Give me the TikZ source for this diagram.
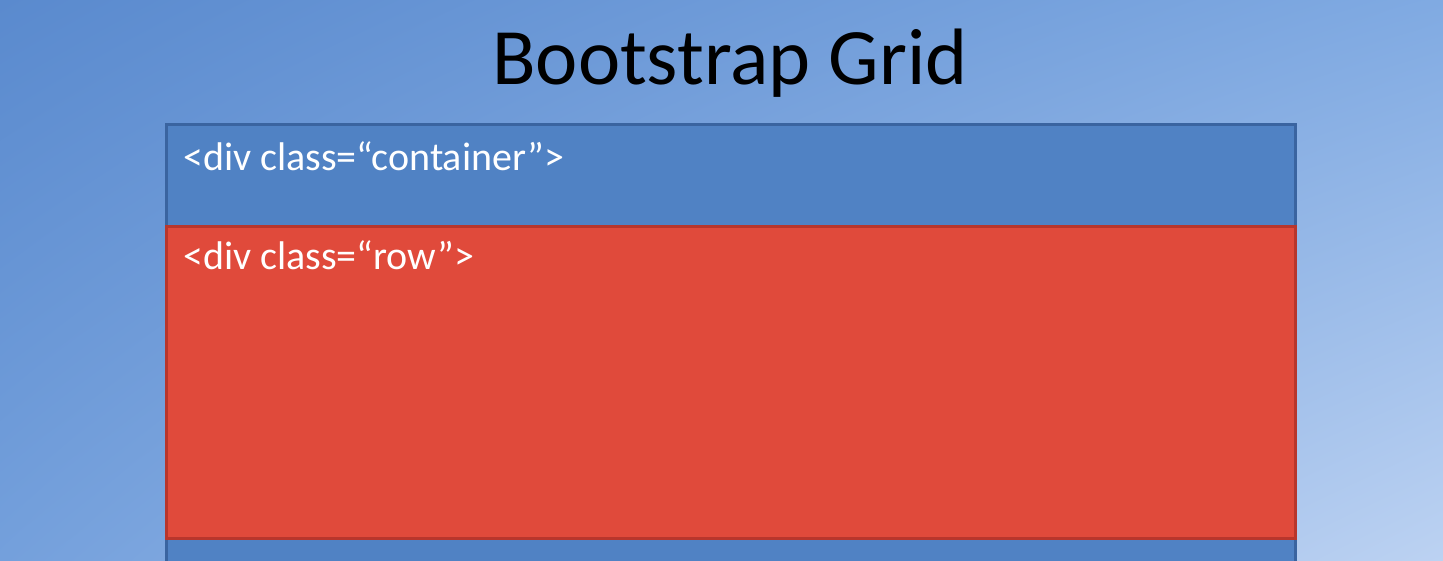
\documentclass[tikz,border=0pt]{standalone}
\usepackage{fontspec}
\setmainfont{Carlito}
\usetikzlibrary{positioning, shadings}

\definecolor{bgtl}{HTML}{5A8ACE}
\definecolor{bgtr}{HTML}{80AAE2}
\definecolor{bgbl}{HTML}{74A0DC}
\definecolor{bgbr}{HTML}{BCD2F2}
\definecolor{contfill}{HTML}{5082C4}
\definecolor{contline}{HTML}{3A64A0}
\definecolor{rowfill}{HTML}{E04A3B}
\definecolor{rowline}{HTML}{B8362C}

\begin{document}
\begin{tikzpicture}[x=1pt,y=-1pt,
    divbox/.style={draw=#1, line width=3pt, minimum width=1129pt, inner sep=0pt},
    divlabel/.style={anchor=base west, inner sep=0pt, text=white, font=\fontsize{40}{44}\selectfont}]
                \useasboundingbox (0,0) rectangle (1443,561);
                \clip (0,0) rectangle (1443,561);
                % Background
                \shade[upper left=bgtl, upper right=bgtr, lower left=bgbl, lower right=bgbr]
                    (0,0) rectangle (1443,561);
                
                % Title
                \node[anchor=base, font=\fontsize{80}{86}\selectfont] (title) at (730,85) {Bootstrap Grid};
                
                % Boxes
                \node[divbox=contline, fill=contfill, minimum height=500pt] (container) at (730.5,375) {};
                \node[divbox=rowline, fill=rowfill, minimum height=311pt] (row) at (730.5,382.5) {};
                
                % Labels
                \node[divlabel] (containerlbl) at (183,171) {<div class=“container”>};
                \node[divlabel] (rowlbl) at (183,270) {<div class=“row”>};
            \end{tikzpicture}
\end{document}
